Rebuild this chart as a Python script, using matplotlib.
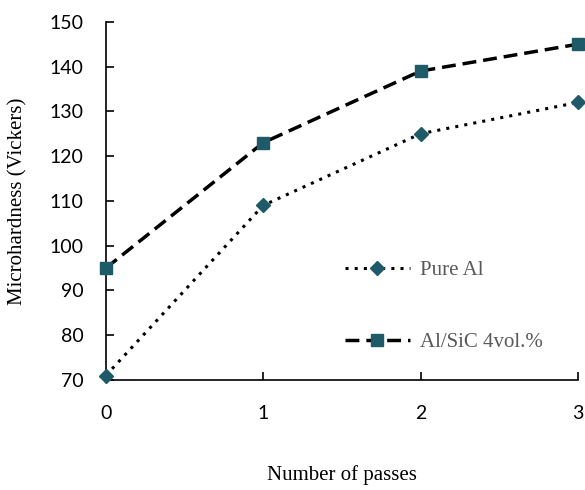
import matplotlib.pyplot as plt

# ---- Data ----
passes = [0, 1, 2, 3]
pure_al = [71, 109, 125, 132]
al_sic = [95, 123, 139, 145]
y_ticks = list(range(70, 151, 10))

MARK = "#1F5A69"

fig = plt.figure(figsize=(5.85, 4.9), dpi=100)
ax = fig.add_axes([0.181, 0.2245, 0.807, 0.731])

ax.plot(passes, pure_al, color="black", linestyle=(0, (1, 2)), linewidth=2.2,
        marker="D", markersize=7, markerfacecolor=MARK, markeredgecolor=MARK,
        label="Pure Al", clip_on=False, zorder=3)
ax.plot(passes, al_sic, color="black", linestyle=(0, (4, 2)), linewidth=2.5,
        marker="s", markersize=9, markerfacecolor=MARK, markeredgecolor=MARK,
        label="Al/SiC 4vol.%", clip_on=False, zorder=3)

ax.set_xlim(0, 3)
ax.set_ylim(70, 150)
ax.set_xticks(passes)
ax.set_yticks(y_ticks)
ax.spines["top"].set_visible(False)
ax.spines["right"].set_visible(False)
ax.tick_params(direction="in", length=6, width=1.2, labelsize=14)
ax.tick_params(axis="x", pad=18)
ax.tick_params(axis="y", pad=16)
for lbl in ax.get_xticklabels() + ax.get_yticklabels():
    lbl.set_fontfamily("Lato")
for s in ("left", "bottom"):
    ax.spines[s].set_linewidth(1.2)

ax.set_xlabel("Number of passes", fontfamily="Liberation Serif", fontsize=15)
ax.set_ylabel("Microhardness (Vickers)", fontfamily="Liberation Serif", fontsize=15)
ax.xaxis.set_label_coords(0.5 * (106 + 578) / 585, 1 - 475 / 490, transform=fig.transFigure)
ax.yaxis.set_label_coords(18 / 585, 1 - 201 / 490, transform=fig.transFigure)
ax.xaxis.label.set_va("center")
ax.yaxis.label.set_va("center")

leg = ax.legend(loc="center left", bbox_to_anchor=(345 / 585, 1 - 306.5 / 490),
                bbox_transform=fig.transFigure, frameon=False, borderpad=0,
                borderaxespad=0, labelspacing=2.5, handlelength=3.1,
                handletextpad=0.5, prop={"family": "Liberation Serif", "size": 15})
for t in leg.get_texts():
    t.set_color("#595959")

fig.savefig("out.png", dpi=100)
